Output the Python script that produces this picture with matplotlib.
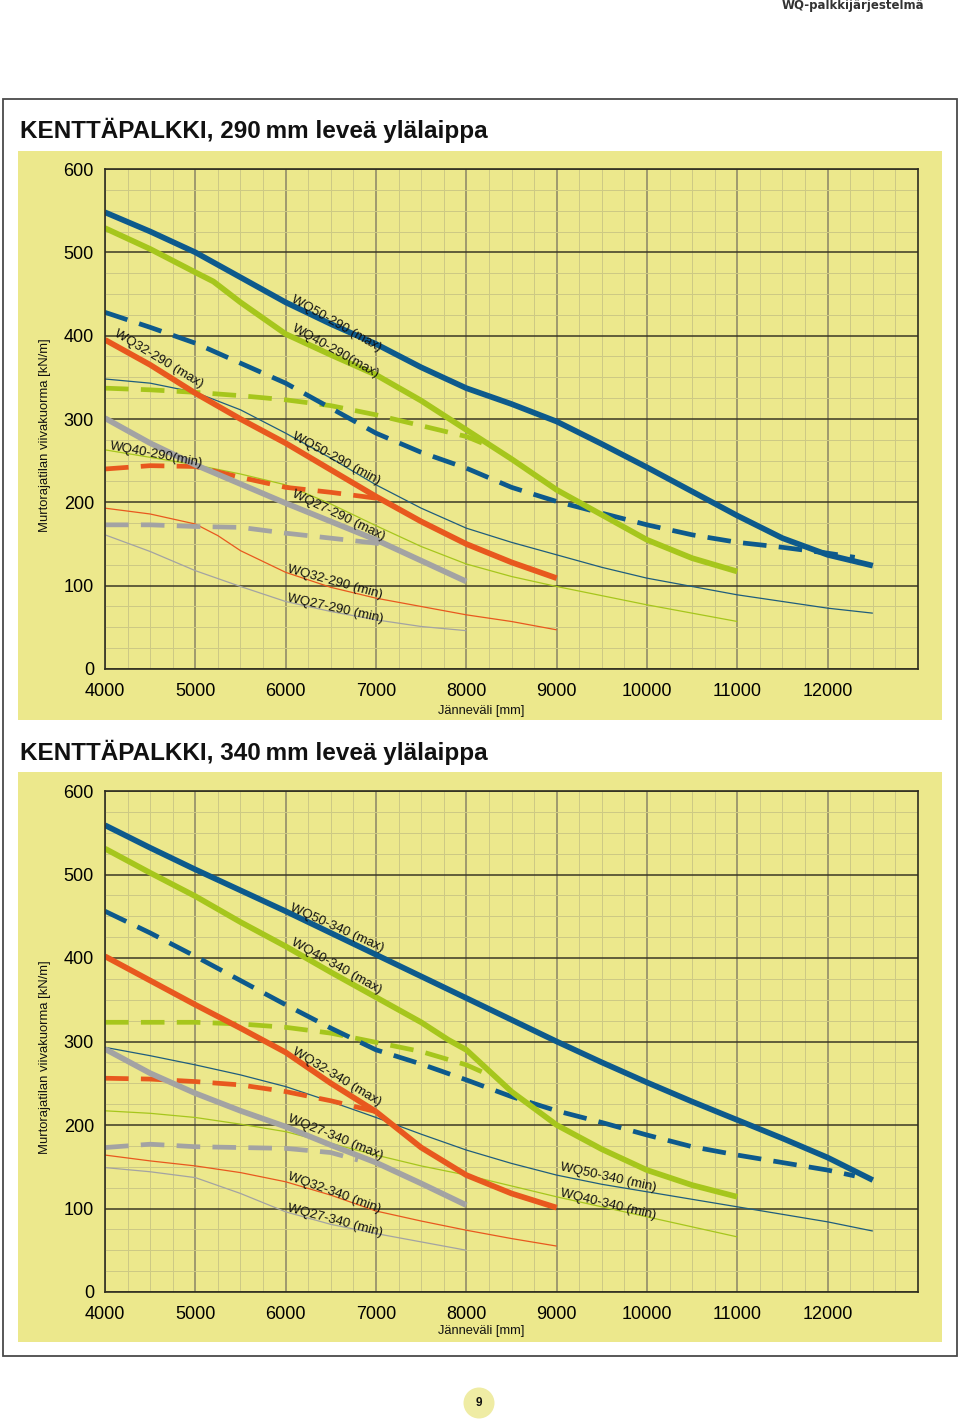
import matplotlib
matplotlib.use('Agg')
import matplotlib.pyplot as plt
from matplotlib.patches import Rectangle, Ellipse
from matplotlib.ticker import MultipleLocator

plt.rcParams['font.family'] = ['Liberation Sans', 'DejaVu Sans']

# ---- data: (jänneväli mm, kuorma kN/m) ----
# 290 mm ylälaippa
wq50_290_max = [(4000, 548), (4500, 525), (5000, 500), (5500, 470), (6000, 440), (6500, 414),
                (7000, 390), (7500, 362), (8000, 337), (8500, 318), (9000, 297), (9500, 270),
                (10000, 242), (10500, 213), (11000, 184), (11500, 157), (12000, 137), (12500, 124)]
wq50_290_dash = [(4000, 428), (4500, 410), (5000, 391), (5500, 367), (6000, 343), (6500, 313),
                 (7000, 283), (7500, 260), (8000, 241), (8500, 218), (9000, 201), (9500, 187),
                 (10000, 173), (10500, 161), (11000, 152), (11500, 146), (12000, 139), (12300, 134)]
wq50_290_min = [(4000, 348), (4500, 343), (5000, 332), (5500, 311), (6000, 283), (6500, 253),
                (7000, 221), (7500, 193), (8000, 169), (8500, 152), (9000, 137), (9500, 122),
                (10000, 109), (10500, 99), (11000, 89), (11500, 81), (12000, 73), (12500, 67)]
wq40_290_max = [(4000, 529), (4500, 504), (5000, 476), (5200, 465), (5500, 440), (6000, 402),
                (6500, 377), (7000, 353), (7500, 322), (8000, 287), (8500, 252), (9000, 215),
                (9500, 185), (10000, 155), (10500, 133), (11000, 117)]
wq40_290_dash = [(4000, 337), (4500, 335), (5000, 332), (5500, 328), (6000, 323), (6500, 316),
                 (7000, 305), (7500, 292), (8000, 279), (8200, 270)]
wq40_290_min = [(4000, 263), (4500, 254), (5000, 245), (5500, 234), (6000, 221), (6500, 198),
                (7000, 172), (7500, 147), (8000, 126), (8500, 111), (9000, 99), (9500, 88),
                (10000, 77), (10500, 67), (11000, 57)]
wq32_290_max = [(4000, 395), (4500, 365), (5000, 331), (5500, 300), (6000, 271), (6500, 239),
                (7000, 207), (7500, 177), (8000, 150), (8500, 128), (9000, 109)]
wq32_290_dash = [(4000, 240), (4500, 244), (5000, 243), (5500, 230), (6000, 218), (6500, 212),
                 (7000, 205)]
wq32_290_min = [(4000, 193), (4500, 186), (5000, 174), (5250, 160), (5500, 142), (6000, 116),
                (6500, 98), (7000, 85), (7500, 75), (8000, 65), (8500, 57), (9000, 47)]
wq27_290_max = [(4000, 301), (4500, 271), (5000, 245), (5500, 222), (6000, 199), (6500, 177),
                (7000, 155), (7500, 130), (8000, 105)]
wq27_290_dash = [(4000, 173), (4500, 173), (5000, 171), (5500, 170), (6000, 163), (6500, 157),
                 (7000, 151), (7100, 149)]
wq27_290_min = [(4000, 161), (4500, 141), (5000, 118), (5500, 99), (6000, 81), (6500, 69),
                (7000, 59), (7500, 51), (8000, 46)]

# 340 mm ylälaippa
wq50_340_max = [(4000, 559), (4500, 532), (5000, 506), (5500, 481), (6000, 456), (6500, 430),
                (7000, 404), (7500, 378), (8000, 352), (8500, 326), (9000, 300), (9500, 275),
                (10000, 251), (10500, 228), (11000, 206), (11500, 184), (12000, 161), (12500, 134)]
wq50_340_dash = [(4000, 456), (4500, 430), (5000, 402), (5500, 373), (6000, 344), (6500, 316),
                 (7000, 290), (7500, 273), (8000, 254), (8500, 234), (9000, 217), (9500, 203),
                 (10000, 188), (10500, 174), (11000, 164), (11500, 155), (12000, 146), (12300, 139)]
wq50_340_min = [(4000, 293), (4500, 283), (5000, 272), (5500, 260), (6000, 246), (6500, 228),
                (7000, 209), (7500, 189), (8000, 170), (8500, 154), (9000, 140), (9500, 129),
                (10000, 120), (10500, 111), (11000, 102), (11500, 93), (12000, 84), (12500, 73)]
wq40_340_max = [(4000, 531), (4500, 502), (5000, 474), (5500, 443), (6000, 414), (6500, 383),
                (7000, 353), (7500, 323), (7800, 302), (8000, 290), (8250, 265), (8500, 240),
                (9000, 200), (9500, 171), (10000, 146), (10500, 128), (11000, 114)]
wq40_340_dash = [(4000, 323), (4500, 323), (5000, 323), (5500, 321), (6000, 317), (6500, 310),
                 (7000, 299), (7500, 288), (8000, 272), (8250, 260)]
wq40_340_min = [(4000, 217), (4500, 214), (5000, 209), (5500, 201), (6000, 192), (6500, 178),
                (7000, 164), (7500, 151), (8000, 140), (8500, 127), (9000, 114), (9500, 102),
                (10000, 90), (10500, 78), (11000, 66)]
wq32_340_max = [(4000, 402), (4500, 373), (5000, 344), (5500, 316), (6000, 287), (6500, 250),
                (7000, 216), (7500, 173), (8000, 140), (8500, 118), (9000, 101)]
wq32_340_dash = [(4000, 256), (4500, 255), (5000, 252), (5500, 248), (6000, 240), (6500, 229),
                 (7000, 216)]
wq32_340_min = [(4000, 164), (4500, 157), (5000, 151), (5500, 143), (6000, 132), (6500, 116),
                (7000, 97), (7500, 85), (8000, 74), (8500, 64), (9000, 55)]
wq27_340_max = [(4000, 291), (4500, 262), (5000, 238), (5500, 217), (6000, 198), (6500, 176),
                (7000, 155), (7500, 130), (8000, 104)]
wq27_340_dash = [(4000, 173), (4500, 177), (5000, 174), (5500, 173), (6000, 172), (6500, 167),
                 (6800, 158)]
wq27_340_min = [(4000, 149), (4500, 144), (5000, 137), (5500, 118), (6000, 96), (6500, 81),
                (7000, 70), (7500, 60), (8000, 50)]

# curve labels: text, span, load, angle
labels_290 = [
    ('WQ50-290 (max)', 6073, 444, -29.5),
    ('WQ40-290(max)', 6084, 409, -29),
    ('WQ32-290 (max)', 4110, 403, -31),
    ('WQ40-290(min)', 4055, 268, -10.7),
    ('WQ50-290 (min)', 6084, 280, -28),
    ('WQ27-290 (max)', 6073, 210, -25.5),
    ('WQ32-290 (min)', 6018, 120, -15.4),
    ('WQ27-290 (min)', 6018, 85, -12.4),
]
labels_340 = [
    ('WQ50-340 (max)', 6051, 461, -24),
    ('WQ40-340 (max)', 6073, 419, -29),
    ('WQ32-340 (max)', 6084, 289, -31),
    ('WQ27-340 (max)', 6029, 208, -22),
    ('WQ32-340 (min)', 6029, 139, -19.8),
    ('WQ27-340 (min)', 6018, 100, -14.8),
    ('WQ50-340 (min)', 9044, 149, -12.3),
    ('WQ40-340 (min)', 9044, 118, -13.4),
]

x_ticks = [4000, 5000, 6000, 7000, 8000, 9000, 10000, 11000, 12000]
y_ticks = [0, 100, 200, 300, 400, 500, 600]

BLUE = '#0d5a8c'
GREEN = '#a6c61c'
ORANGE = '#e8581e'
GREY = '#a3a3a3'
THIN_BLUE = '#1f5d7d'
PANEL = '#ece88c'

W, H = 960, 1421


def fx(px):
    return px / W


def fy(py):
    return 1 - py / H


def draw_chart(fig, top_px, bot_px, series, labels):
    ax = fig.add_axes([fx(105), fy(bot_px), fx(918) - fx(105), fy(top_px) - fy(bot_px)])
    ax.set_facecolor(PANEL)
    ax.set_xlim(4000, 13000)
    ax.set_ylim(0, 600)
    ax.xaxis.set_minor_locator(MultipleLocator(250))
    ax.yaxis.set_minor_locator(MultipleLocator(25))
    ax.set_xticks(x_ticks)
    ax.set_yticks(y_ticks)
    ax.grid(which='minor', color='#cdc984', lw=0.7)
    ax.grid(which='major', axis='x', color='#8a8466', lw=1.1)
    ax.grid(which='major', axis='y', color='#3b3924', lw=1.1)
    ax.set_axisbelow(True)
    ax.tick_params(which='both', length=0)
    ax.tick_params(axis='y', pad=8, labelsize=13)
    ax.tick_params(axis='x', pad=10, labelsize=13)
    for s in ax.spines.values():
        s.set_color('#2e2d20')
        s.set_linewidth(1.2)

    # thin (min) first, then dashed, then thick (max)
    for pts, color, lw, dashed in series:
        xs = [p[0] for p in pts]
        ys = [p[1] for p in pts]
        if dashed:
            ax.plot(xs, ys, color=color, lw=lw, dashes=(5, 2.6), solid_capstyle='butt')
        else:
            ax.plot(xs, ys, color=color, lw=lw, solid_joinstyle='round', solid_capstyle='butt')

    for txt, x, y, ang in labels:
        ax.text(x, y, txt, rotation=ang, rotation_mode='anchor', ha='left', va='center',
                fontsize=9.5, color='#111111')
    return ax


fig = plt.figure(figsize=(W / 100, H / 100), dpi=100)
fig.patch.set_facecolor('white')

# outer frame and yellow panels
fig.add_artist(Rectangle((fx(3), fy(1356)), fx(957) - fx(3), fy(99) - fy(1356),
                         transform=fig.transFigure, fill=False, ec='#4a4a4a', lw=1.3))
for t, b in [(151, 720), (772, 1342)]:
    fig.add_artist(Rectangle((fx(18), fy(b)), fx(942) - fx(18), fy(t) - fy(b),
                             transform=fig.transFigure, fc=PANEL, ec='none', zorder=0))

series_290 = [
    (wq27_290_min, GREY, 0.9, False), (wq32_290_min, ORANGE, 0.9, False),
    (wq40_290_min, GREEN, 0.9, False), (wq50_290_min, THIN_BLUE, 0.9, False),
    (wq27_290_dash, GREY, 3.4, True), (wq32_290_dash, ORANGE, 3.4, True),
    (wq40_290_dash, GREEN, 3.4, True), (wq50_290_dash, BLUE, 3.4, True),
    (wq27_290_max, GREY, 4.1, False), (wq32_290_max, ORANGE, 4.1, False),
    (wq40_290_max, GREEN, 4.1, False), (wq50_290_max, BLUE, 4.1, False),
]
series_340 = [
    (wq27_340_min, GREY, 0.9, False), (wq32_340_min, ORANGE, 0.9, False),
    (wq40_340_min, GREEN, 0.9, False), (wq50_340_min, THIN_BLUE, 0.9, False),
    (wq27_340_dash, GREY, 3.4, True), (wq32_340_dash, ORANGE, 3.4, True),
    (wq40_340_dash, GREEN, 3.4, True), (wq50_340_dash, BLUE, 3.4, True),
    (wq27_340_max, GREY, 4.1, False), (wq32_340_max, ORANGE, 4.1, False),
    (wq40_340_max, GREEN, 4.1, False), (wq50_340_max, BLUE, 4.1, False),
]

draw_chart(fig, 169, 669, series_290, labels_290)
draw_chart(fig, 791, 1292, series_340, labels_340)

# titles and axis texts
fig.text(fx(20), fy(130), 'KENTTÄPALKKI, 290\u2009mm leveä ylälaippa', fontsize=17.5,
         fontweight='bold', va='center', ha='left', color='#111111')
fig.text(fx(20), fy(752), 'KENTTÄPALKKI, 340\u2009mm leveä ylälaippa', fontsize=17.5,
         fontweight='bold', va='center', ha='left', color='#111111')
for yc in (435, 1057):
    fig.text(fx(45), fy(yc), 'Murtorajatilan viivakuorma [kN/m]', rotation=90,
             fontsize=9.4, ha='center', va='center', color='#111111')
for yc in (711, 1331):
    fig.text(fx(481), fy(yc), 'Jänneväli [mm]', fontsize=9.3, ha='center', va='center',
             color='#111111')

# header and page number
fig.text(fx(924), fy(6), 'WQ-palkkijärjestelmä', fontsize=8.5, fontweight='bold',
         ha='right', va='center', color='#333333', family=['DejaVu Sans'])
fig.add_artist(Ellipse((fx(479), fy(1403)), 31 / W, 31 / H, transform=fig.transFigure,
                       fc='#efeca4', ec='none'))
fig.text(fx(479), fy(1403), '9', fontsize=8.5, fontweight='bold', ha='center', va='center',
         color='#111111')

fig.savefig('out.png', dpi=100)
